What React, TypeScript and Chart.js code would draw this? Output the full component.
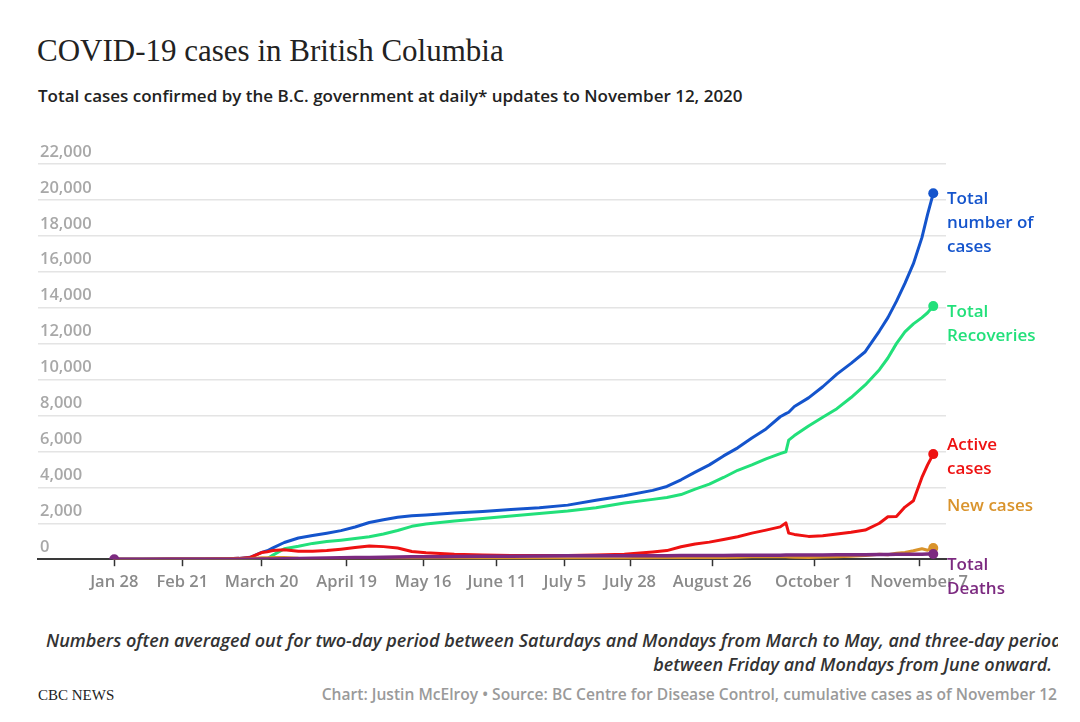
import React, { useEffect, useRef } from "react";
import { Chart, registerables } from "chart.js";

Chart.register(...registerables);

// Days since Jan 28, 2020
const dayOffsets = [
  0, 10, 20, 30, 40, 44, 48, 52, 54, 56, 60, 65, 70, 75, 80, 85, 90, 95, 100, 105,
  110, 115, 120, 130, 140, 150, 160, 170, 180, 190, 195, 200, 205, 210, 215, 220,
  225, 230, 235, 237, 238, 240, 245, 250, 255, 260, 265, 270, 273, 276, 279, 282,
  285, 287, 289,
];

const totalCases = [
  1, 1, 5, 8, 27, 46, 103, 380, 470, 630, 930, 1180, 1320, 1450, 1590, 1790, 2040, 2200, 2330, 2420,
  2460, 2510, 2570, 2660, 2760, 2860, 3010, 3280, 3530, 3830, 4050, 4420, 4850, 5250, 5750, 6200,
  6750, 7250, 7930, 8100, 8180, 8500, 8980, 9600, 10300, 10900, 11550, 12700, 13450, 14350, 15350, 16450,
  17900, 19200, 20370,
];

const totalRecoveries = [
  0, 0, 0, 0, 0, 0, 0, 0, 30, 230, 580, 720, 880, 980, 1060, 1150, 1250, 1400, 1600, 1830,
  1960, 2040, 2130, 2260, 2400, 2540, 2680, 2860, 3130, 3330, 3440, 3600, 3900, 4180, 4550, 4950,
  5250, 5590, 5880, 5980, 6630, 6880, 7420, 7900, 8380, 9000, 9700, 10550, 11200, 12000, 12650, 13100,
  13450, 13720, 14090,
];

const activeCases = [
  1, 1, 5, 8, 27, 46, 100, 370, 420, 480, 520, 440, 440, 480, 560, 650, 730, 700, 620, 430,
  360, 320, 270, 230, 210, 200, 200, 240, 270, 400, 480, 690, 850, 950, 1100, 1250,
  1450, 1620, 1800, 2020, 1450, 1380, 1270, 1300, 1400, 1500, 1620, 2000, 2360, 2380, 2900, 3250,
  4550, 5250, 5850,
];

const newCases = [
  1, 0, 0, 0, 6, 7, 30, 77, 76, 90, 92, 53, 34, 27, 29, 71, 55, 33, 25, 16,
  11, 15, 12, 9, 14, 20, 25, 30, 28, 60, 85, 78, 100, 90, 100, 110,
  130, 140, 150, 130, 120, 110, 100, 120, 140, 170, 200, 280, 250, 330, 380, 470,
  580, 500, 620,
];

const totalDeaths = [
  0, 0, 0, 0, 0, 0, 4, 8, 10, 14, 19, 35, 50, 69, 78, 94, 100, 114, 120, 130,
  135, 141, 155, 165, 168, 174, 186, 189, 195, 196, 198, 200, 203, 207, 210, 213,
  215, 220, 224, 227, 227, 229, 234, 240, 244, 250, 253, 256, 262, 269, 273, 277,
  281, 284, 290,
];

const tickDays = [0, 24, 52, 82, 109, 135, 159, 182, 211, 247, 284];
const tickLabels = [
  "Jan 28", "Feb 21", "March 20", "April 19", "May 16", "June 11",
  "July 5", "July 28", "August 26", "October 1", "November 7",
];

const yMax = 22000;
const yStep = 2000;

const FONT = '"Open Sans", sans-serif';

const BLUE = "#1454cc";
const GREEN = "#22e07a";
const RED = "#ee1111";
const ORANGE = "#d9932b";
const PURPLE = "#7c2a80";

function toPoints(values: number[]) {
  return dayOffsets.map((d, i) => ({ x: d, y: values[i] }));
}

export default function App() {
  const ref = useRef<HTMLCanvasElement>(null);

  useEffect(() => {
    const last = dayOffsets.length - 1;
    const endDot = (ctx: any) => (ctx.dataIndex === last ? 5 : 0);
    const bothDots = (ctx: any) => (ctx.dataIndex === last || ctx.dataIndex === 0 ? 5 : 0);
    const mk = (label: string, values: number[], color: string, order: number, radius: any, width = 3) => ({
      label,
      data: toPoints(values),
      borderColor: color,
      backgroundColor: color,
      borderWidth: width,
      pointRadius: radius,
      pointHoverRadius: radius,
      pointBorderWidth: 0,
      tension: 0,
      borderCapStyle: "round" as const,
      borderJoinStyle: "round" as const,
      order,
    });

    const chart = new Chart(ref.current as HTMLCanvasElement, {
      type: "line",
      data: {
        datasets: [
          mk("Total number of cases", totalCases, BLUE, 4, endDot),
          mk("Total Recoveries", totalRecoveries, GREEN, 3, endDot),
          mk("Active cases", activeCases, RED, 2, endDot),
          mk("New cases", newCases, ORANGE, 1, endDot),
          mk("Total Deaths", totalDeaths, PURPLE, 0, bothDots, 3.5),
        ],
      },
      options: {
        animation: false,
        responsive: false,
        devicePixelRatio: 1,
        layout: { padding: { left: 34, right: 134, top: 34, bottom: 0 } },
        plugins: { legend: { display: false }, tooltip: { enabled: false } },
        scales: {
          x: {
            type: "linear",
            min: -26.9,
            max: 293.5,
            afterBuildTicks: (scale: any) => {
              scale.ticks = tickDays.map((v) => ({ value: v }));
            },
            ticks: {
              autoSkip: false,
              maxRotation: 0,
              padding: 6,
              color: "#8a8a8a",
              font: { family: FONT, size: 16.5, weight: "600" },
              callback: (value: any) => {
                const i = tickDays.indexOf(Number(value));
                return i >= 0 ? tickLabels[i] : "";
              },
            },
            grid: {
              display: true,
              drawOnChartArea: false,
              drawTicks: true,
              tickLength: 7,
              tickColor: "#333333",
              tickWidth: 1.5,
            },
            border: { display: true, color: "#3a3a3a", width: 2 },
          },
          y: {
            min: 0,
            max: yMax,
            ticks: {
              stepSize: yStep,
              mirror: true,
              labelOffset: -12,
              padding: 2,
              color: "#a8a8a8",
              font: { family: FONT, size: 16.5, weight: "600" },
              callback: (value: any) => Number(value).toLocaleString("en-US"),
            },
            grid: {
              drawTicks: false,
              lineWidth: 1.5,
              color: (ctx: any) => (ctx.tick && ctx.tick.value === 0 ? "rgba(0,0,0,0)" : "#e4e4e4"),
            },
            border: { display: false },
          },
        },
      },
    });
    return () => chart.destroy();
  }, []);

  const lbl = (top: number, color: string, lines: string[]) => (
    <div
      style={{
        position: "absolute",
        left: 947,
        top,
        color,
        font: `600 17px ${FONT}`,
        lineHeight: "24px",
        whiteSpace: "nowrap",
      }}
    >
      {lines.map((l, i) => (
        <div key={i}>{l}</div>
      ))}
    </div>
  );

  return (
    <div
      style={{
        position: "absolute",
        left: 0,
        top: 0,
        width: 1080,
        height: 722,
        overflow: "hidden",
        background: "#ffffff",
      }}
    >
      <div
        style={{
          position: "absolute",
          left: 37,
          top: 33,
          font: `31px "Liberation Serif", serif`,
          lineHeight: "36px",
          color: "#222222",
          whiteSpace: "nowrap",
        }}
      >
        COVID-19 cases in British Columbia
      </div>
      <div
        style={{
          position: "absolute",
          left: 38,
          top: 85,
          font: `600 17px ${FONT}`,
          lineHeight: "22px",
          color: "#222222",
          whiteSpace: "nowrap",
        }}
      >
        Total cases confirmed by the B.C. government at daily* updates to November 12, 2020
      </div>

      <div style={{ position: "absolute", left: 0, top: 130, width: 1080, height: 468 }}>
        <canvas ref={ref} width={1080} height={468} style={{ display: "block" }} />
      </div>

      {lbl(185.5, BLUE, ["Total", "number of", "cases"])}
      {lbl(298.5, GREEN, ["Total", "Recoveries"])}
      {lbl(431.5, RED, ["Active", "cases"])}
      {lbl(493, ORANGE, ["New cases"])}
      {lbl(551.5, PURPLE, ["Total", "Deaths"])}

      <div style={{ position: "absolute", left: 0, top: 620, width: 1058, height: 60, overflow: "hidden" }}>
        <div
          style={{
            position: "absolute",
            left: 46,
            top: 8.4,
            font: `italic 600 18px ${FONT}`,
            lineHeight: "24px",
            color: "#333333",
            whiteSpace: "nowrap",
          }}
        >
          Numbers often averaged out for two-day period between Saturdays and Mondays from March to May, and three-day period
        </div>
        <div
          style={{
            position: "absolute",
            right: 6,
            top: 32.4,
            font: `italic 600 18px ${FONT}`,
            lineHeight: "24px",
            color: "#333333",
            whiteSpace: "nowrap",
          }}
        >
          between Friday and Mondays from June onward.
        </div>
      </div>

      <div
        style={{
          position: "absolute",
          left: 38,
          top: 684,
          font: `15px "Liberation Serif", serif`,
          lineHeight: "22px",
          color: "#222222",
          whiteSpace: "nowrap",
        }}
      >
        CBC NEWS
      </div>
      <div
        style={{
          position: "absolute",
          right: 23,
          top: 683,
          font: `600 15.6px ${FONT}`,
          lineHeight: "22px",
          color: "#9a9a9a",
          whiteSpace: "nowrap",
        }}
      >
        Chart: Justin McElroy • Source: BC Centre for Disease Control, cumulative cases as of November 12
      </div>
    </div>
  );
}
